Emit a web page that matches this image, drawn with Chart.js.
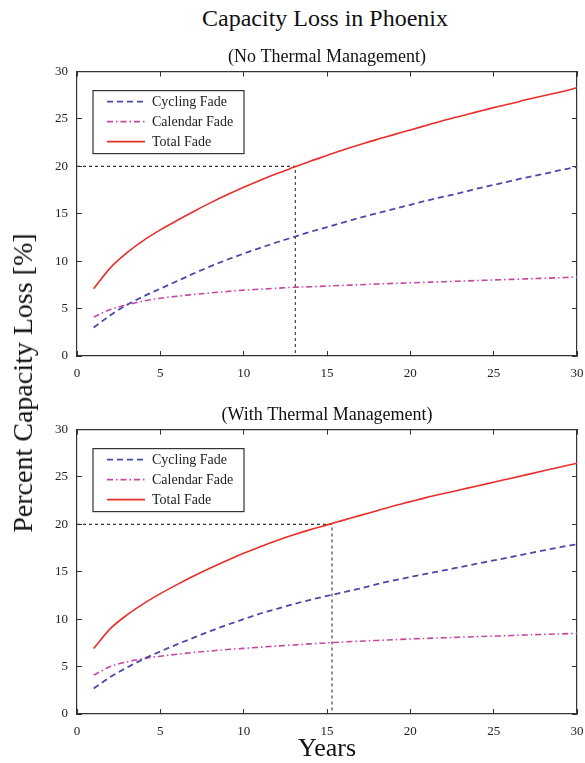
<!DOCTYPE html>
<html>
<head>
<meta charset="utf-8">
<script src="https://cdn.jsdelivr.net/npm/chart.js@4.4.1/dist/chart.umd.min.js"></script>
<style>
  body { margin: 0; background: #fff; font-family: 'Liberation Serif', 'Times New Roman', serif; color: #111; }
  #page { position: relative; width: 585px; height: 763px; overflow: hidden; }
  .lbl { position: absolute; white-space: nowrap; font-family: 'Liberation Serif', serif; color: #111; }
  #main-title { left: 325px; top: 18px; font-size: 24px; transform: translate(-50%, -50%); }
  #y-title { left: 23px; top: 383px; font-size: 28px; transform: translate(-50%, -50%) rotate(-90deg); }
  #x-title { left: 327px; top: 748px; font-size: 26px; transform: translate(-50%, -50%); }
  canvas { position: absolute; left: 0; }
  #chartTop { top: 40px; }
  #chartBottom { top: 398px; }
</style>
</head>
<body>
<div id="page">
  <div class="lbl" id="main-title">Capacity Loss in Phoenix</div>
  <canvas id="chartTop" width="585" height="345"></canvas>
  <canvas id="chartBottom" width="585" height="345"></canvas>
  <div class="lbl" id="y-title">Percent Capacity Loss [%]</div>
  <div class="lbl" id="x-title">Years</div>
</div>
<script>
const years = [1, 2, 3, 4, 5, 6, 7, 8, 9, 10, 11, 12, 13, 14, 15, 16, 17, 18, 19, 20, 21, 22, 23, 24, 25, 26, 27, 28, 29, 30];
const xTicks = [0, 5, 10, 15, 20, 25, 30];
const yTicks = [0, 5, 10, 15, 20, 25, 30];

// no thermal management
const cyclingNoTM = [3.0, 4.3, 5.4, 6.3, 7.1, 7.9, 8.7, 9.45, 10.15, 10.8, 11.4, 12.0, 12.55, 13.1, 13.6, 14.1, 14.6, 15.05, 15.5, 15.95, 16.4, 16.8, 17.2, 17.65, 18.05, 18.45, 18.85, 19.2, 19.6, 19.95];
const calendarNoTM = [4.1, 4.9, 5.4, 5.8, 6.1, 6.3, 6.5, 6.65, 6.8, 6.95, 7.05, 7.15, 7.25, 7.3, 7.38, 7.45, 7.52, 7.6, 7.66, 7.72, 7.78, 7.84, 7.9, 7.96, 8.02, 8.08, 8.14, 8.2, 8.26, 8.32];
const totalNoTM = [7.1, 9.3, 10.9, 12.2, 13.3, 14.3, 15.25, 16.15, 17.0, 17.8, 18.55, 19.25, 19.9, 20.55, 21.15, 21.75, 22.3, 22.85, 23.35, 23.85, 24.35, 24.85, 25.3, 25.75, 26.2, 26.6, 27.05, 27.45, 27.85, 28.3];

// with thermal management
const cyclingTM = [2.7, 3.9, 4.9, 5.8, 6.6, 7.35, 8.05, 8.75, 9.4, 10.0, 10.6, 11.1, 11.6, 12.05, 12.45, 12.85, 13.25, 13.7, 14.1, 14.45, 14.8, 15.15, 15.5, 15.85, 16.2, 16.55, 16.9, 17.25, 17.6, 17.9];
const calendarTM = [4.1, 5.0, 5.5, 5.85, 6.1, 6.3, 6.5, 6.65, 6.8, 6.92, 7.05, 7.17, 7.28, 7.4, 7.5, 7.6, 7.68, 7.76, 7.84, 7.92, 7.98, 8.04, 8.1, 8.16, 8.22, 8.28, 8.34, 8.4, 8.45, 8.5];
const totalTM = [6.9, 9.0, 10.45, 11.65, 12.7, 13.65, 14.55, 15.4, 16.2, 16.95, 17.65, 18.3, 18.9, 19.45, 19.95, 20.45, 20.95, 21.45, 21.95, 22.4, 22.85, 23.25, 23.65, 24.05, 24.45, 24.85, 25.25, 25.65, 26.05, 26.45];

// year where total fade reaches the 20% end-of-life limit
const eolLimit = 20;
const eolYearNoTM = 13.1;
const eolYearTM = 15.3;

const serif = "'Liberation Serif', 'Times New Roman', serif";
const colors = { cycling: '#4a4aa6', calendar: '#c447a3', total: '#ea2e2a', ref: '#333333' };

const toPoints = (values) => values.map((v, i) => ({ x: years[i], y: v }));

// draws the boxed legend inside the plot, like the original figure
const boxLegend = {
  id: 'boxLegend',
  afterDatasetsDraw(chart) {
    const { ctx, chartArea } = chart;
    const items = chart.data.datasets.filter((d) => d.label);
    const x0 = chartArea.left + 16;
    const y0 = chartArea.top + 19;
    const w = 151;
    const h = 63;
    ctx.save();
    ctx.fillStyle = '#fff';
    ctx.fillRect(x0, y0, w, h);
    ctx.strokeStyle = '#333';
    ctx.lineWidth = 1.2;
    ctx.strokeRect(x0, y0, w, h);
    ctx.font = `14px ${serif}`;
    ctx.textBaseline = 'middle';
    items.forEach((d, i) => {
      const y = y0 + 11 + i * 20;
      ctx.strokeStyle = d.borderColor;
      ctx.lineWidth = d.borderWidth;
      ctx.setLineDash(d.borderDash || []);
      ctx.beginPath();
      ctx.moveTo(x0 + 14, y);
      ctx.lineTo(x0 + 52, y);
      ctx.stroke();
      ctx.setLineDash([]);
      ctx.fillStyle = '#222';
      ctx.fillText(d.label, x0 + 59, y + 1);
    });
    ctx.restore();
  },
};

function buildChart(canvasId, subtitle, cycling, calendar, total, eolYear) {
  const axisBase = {
    type: 'linear',
    min: 0,
    max: 30,
    border: { display: true, color: '#333', width: 1.2 },
    grid: { drawOnChartArea: false, drawTicks: true, tickLength: -5, color: '#333', lineWidth: 1 },
  };
  const tickFont = { family: serif, size: 13 };
  const noSidePadding = (s) => { s.paddingLeft = 0; s.paddingRight = 8; };

  return new Chart(document.getElementById(canvasId), {
    type: 'line',
    data: {
      datasets: [
        { label: 'Cycling Fade', data: toPoints(cycling), borderColor: colors.cycling, borderWidth: 1.8, borderDash: [6, 4] },
        { label: 'Calendar Fade', data: toPoints(calendar), borderColor: colors.calendar, borderWidth: 1.6, borderDash: [6, 3, 1.5, 3] },
        { label: 'Total Fade', data: toPoints(total), borderColor: colors.total, borderWidth: 1.6 },
        {
          label: '',
          data: [{ x: 0, y: eolLimit }, { x: eolYear, y: eolLimit }, { x: eolYear, y: 0 }],
          borderColor: colors.ref,
          borderWidth: 1.1,
          borderDash: [3, 3],
          tension: 0,
          cubicInterpolationMode: 'default',
        },
      ],
    },
    options: {
      responsive: false,
      animation: false,
      layout: { padding: 0 },
      elements: { point: { radius: 0 }, line: { cubicInterpolationMode: 'monotone', fill: false } },
      plugins: {
        legend: { display: false },
        tooltip: { enabled: false },
        title: {
          display: true,
          text: subtitle,
          fullSize: false,
          color: '#111',
          font: { family: serif, size: 18, weight: 'normal' },
          padding: { top: 6, bottom: 0 },
        },
      },
      scales: {
        x: {
          ...axisBase,
          position: 'bottom',
          ticks: { stepSize: 5, color: '#222', font: tickFont, padding: 15, maxRotation: 0, callback: (v) => (xTicks.includes(v) ? v : '') },
          afterFit: (s) => { s.height = 29; noSidePadding(s); },
        },
        x2: {
          ...axisBase,
          position: 'top',
          ticks: { stepSize: 5, display: false },
          afterFit: (s) => { s.height = 4; noSidePadding(s); },
        },
        y: {
          ...axisBase,
          position: 'left',
          ticks: { stepSize: 5, color: '#222', font: tickFont, padding: 14, callback: (v) => (yTicks.includes(v) ? v : '') },
          afterFit: (s) => { s.width = 77; },
        },
        y2: {
          ...axisBase,
          position: 'right',
          ticks: { stepSize: 5, display: false },
          afterFit: (s) => { s.width = 0; },
        },
      },
    },
    plugins: [boxLegend],
  });
}

buildChart('chartTop', '(No Thermal Management)', cyclingNoTM, calendarNoTM, totalNoTM, eolYearNoTM);
buildChart('chartBottom', '(With Thermal Management)', cyclingTM, calendarTM, totalTM, eolYearTM);
</script>
</body>
</html>
